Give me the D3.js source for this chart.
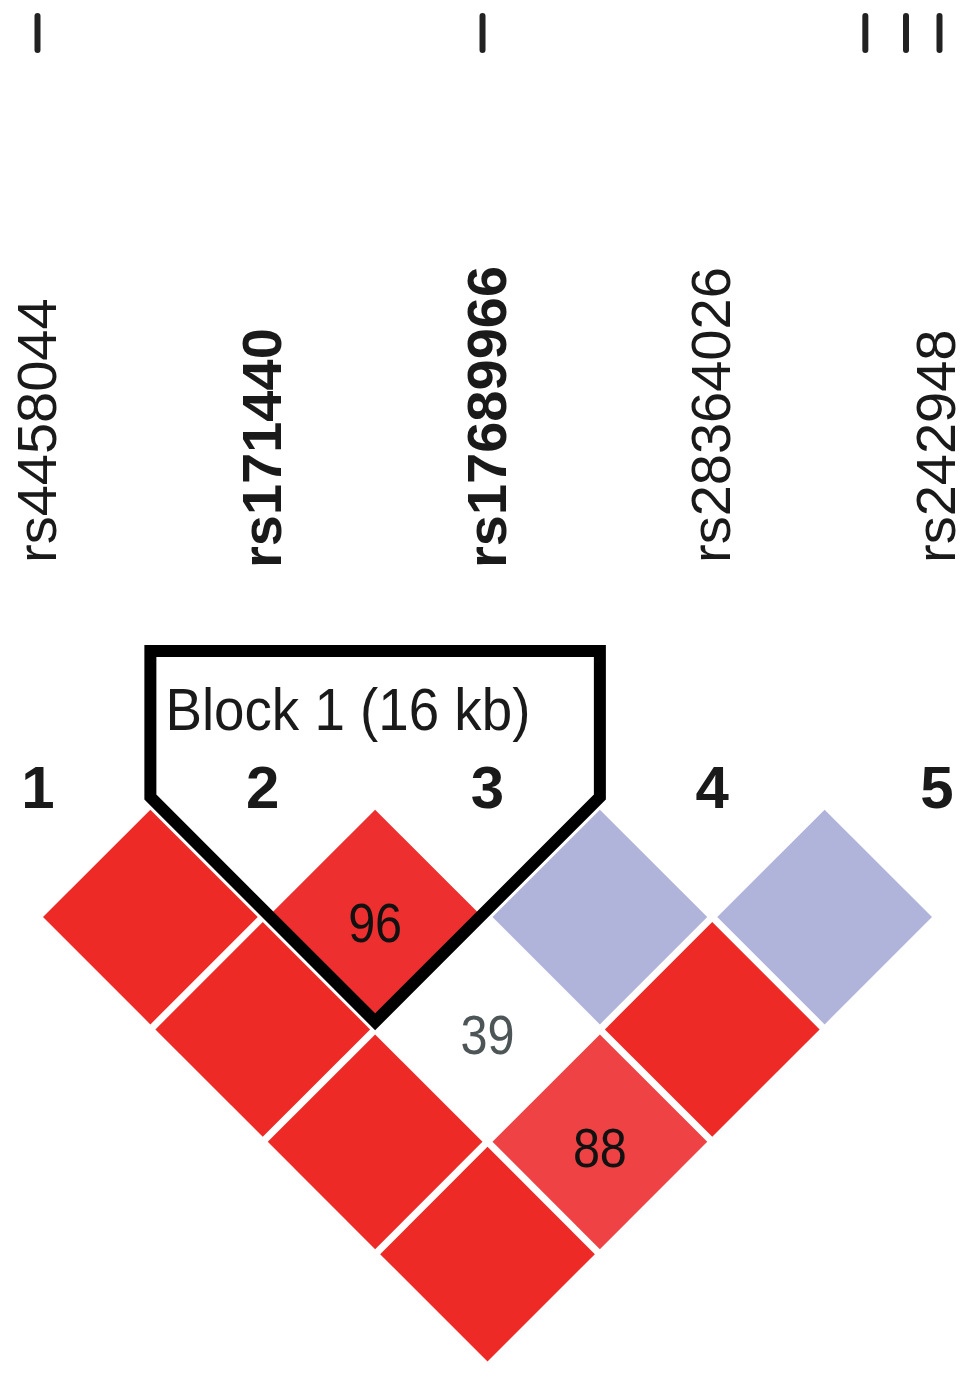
<!DOCTYPE html>
<html>
<head>
<meta charset="utf-8">
<style>
  html, body { margin: 0; padding: 0; background: #fff; }
  svg { display: block; font-family: "Liberation Sans", Arial, sans-serif; }
</style>
</head>
<body>
<div id="chart"></div>
<script src="https://d3js.org/d3.v7.min.js"></script>
<script>
// SNPs in map order
const snpNames = ["rs4458044", "rs171440", "rs17689966", "rs28364026", "rs242948"];
const snpBold = [false, true, true, false, false];
// physical position (kb, relative to first SNP)
const snpPosKb = [0, 18.6, 34.6, 36.3, 37.7];

// pairwise LD cells: [snpA, snpB], D' (x100) and shading
const pairs = [[1, 2], [2, 3], [3, 4], [4, 5], [1, 3], [2, 4], [3, 5], [1, 4], [2, 5], [1, 5]];
const dPrime = [100, 96, 100, 100, 100, 39, 100, 100, 88, 100];
const cellColors = ["#ee2a27", "#ee2f2f", "#b0b3da", "#b0b3da", "#ee2a27",
                    "#ffffff", "#ee2a27", "#ee2a27", "#ee4244", "#ee2a27"];

// haplotype block
const blockLabel = "Block 1 (16 kb)";
const blockSnps = [2, 3];

const width = 969, height = 1377;
const svg = d3.select("#chart").append("svg")
  .attr("width", width)
  .attr("height", height);

const x = d3.scaleLinear().domain([1, 5]).range([38, 937]);
const unit = (x(2) - x(1)) / 2;              // half spacing between SNPs
const rowY = d3.scaleLinear().domain([1, 2]).range([917, 917 + unit]);
const posX = d3.scaleLinear().domain([0, d3.max(snpPosKb)]).range([37.5, 939.5]);

// physical position ticks on the top
svg.selectAll("line.pos")
  .data(snpPosKb)
  .join("line")
  .attr("class", "pos")
  .attr("x1", d => posX(d)).attr("x2", d => posX(d))
  .attr("y1", 16).attr("y2", 50)
  .attr("stroke", "#222")
  .attr("stroke-width", 6)
  .attr("stroke-linecap", "round");

// SNP names, rotated
svg.selectAll("text.snp")
  .data(snpNames)
  .join("text")
  .attr("class", "snp")
  .attr("transform", (d, i) => `translate(${x(i + 1) + 18},${snpBold[i] ? 568 : 563}) rotate(-90)`)
  .attr("text-anchor", "start")
  .attr("font-size", 56)
  .attr("font-weight", (d, i) => snpBold[i] ? "bold" : "normal")
  .attr("fill", "#1a1a1a")
  .text(d => d);

// SNP numbers
svg.selectAll("text.num")
  .data(snpNames)
  .join("text")
  .attr("class", "num")
  .attr("x", (d, i) => x(i + 1))
  .attr("y", 808)
  .attr("text-anchor", "middle")
  .attr("font-size", 60)
  .attr("font-weight", "bold")
  .attr("fill", "#1a1a1a")
  .text((d, i) => i + 1);

// LD diamonds
const half = unit - 5;
const cells = pairs.map((p, i) => ({
  cx: (x(p[0]) + x(p[1])) / 2,
  cy: rowY(p[1] - p[0]),
  d: dPrime[i],
  color: cellColors[i]
}));

svg.selectAll("path.cell")
  .data(cells)
  .join("path")
  .attr("class", "cell")
  .attr("d", c => `M${c.cx},${c.cy - half}L${c.cx + half},${c.cy}L${c.cx},${c.cy + half}L${c.cx - half},${c.cy}Z`)
  .attr("fill", c => c.color);

svg.selectAll("text.dp")
  .data(cells.filter(c => c.d < 100))
  .join("text")
  .attr("class", "dp")
  .attr("x", c => c.cx - 27)
  .attr("y", c => c.cy + 25)
  .attr("font-size", 56)
  .attr("textLength", 54)
  .attr("lengthAdjust", "spacingAndGlyphs")
  .attr("fill", c => c.color === "#ffffff" ? "#4d5557" : "#111")
  .text(c => c.d);

// block outline
const bLeft = (x(blockSnps[0] - 1) + x(blockSnps[0])) / 2;
const bRight = (x(blockSnps[1]) + x(blockSnps[1] + 1)) / 2;
const bTop = 651, bBend = rowY(1) - 120;
const bBottom = bBend + (bRight - bLeft) / 2;
const bMid = (bLeft + bRight) / 2;

svg.append("path")
  .attr("d", d3.line()([[bLeft, bTop], [bRight, bTop], [bRight, bBend], [bMid, bBottom], [bLeft, bBend]]) + "Z")
  .attr("fill", "none")
  .attr("stroke", "#000")
  .attr("stroke-width", 12)
  .attr("stroke-linejoin", "miter");

svg.append("text")
  .attr("x", bLeft + 15)
  .attr("y", 730)
  .attr("font-size", 60)
  .attr("textLength", 365)
  .attr("lengthAdjust", "spacingAndGlyphs")
  .attr("fill", "#1a1a1a")
  .text(blockLabel);
</script>
</body>
</html>
